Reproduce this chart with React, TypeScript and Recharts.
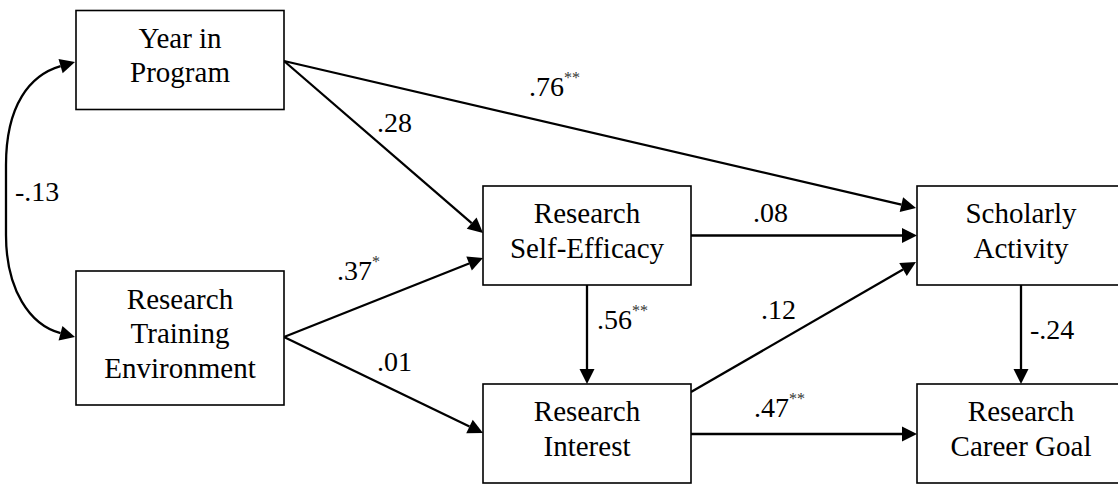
import React from 'react';
import { ScatterChart, Scatter, XAxis, YAxis } from 'recharts';

// node boxes: label lines and centre (drawing units = pixels of the 1118x485 figure)
const nodeLabels = [
  ['Year in', 'Program'],
  ['Research', 'Training', 'Environment'],
  ['Research', 'Self-Efficacy'],
  ['Research', 'Interest'],
  ['Scholarly', 'Activity'],
  ['Research', 'Career Goal'],
];
const nodeX = [180, 180, 587, 587, 1021, 1021];
const nodeY = [60, 338, 235.5, 433.5, 235.5, 433.5];

// directed paths: start / end of each arrow
const pathFrom: [number, number][] = [
  [284, 61], [284, 61], [284, 337], [284, 337], [691, 235.5],
  [587, 285], [691, 392], [691, 434], [1021, 285],
];
const pathTo: [number, number][] = [
  [483, 233], [916, 208], [483, 258], [483, 433], [917, 235.5],
  [587, 384], [916, 262], [917, 434], [1021, 384],
];

// path coefficients and where they sit
const coefText = ['.28', '.76', '.37', '.01', '.08', '.56', '.12', '.47', '-.24', '-.13'];
const coefStars = ['', '**', '*', '', '', '**', '', '**', '', ''];
const coefX = [377, 529, 337, 377, 753, 597, 761, 754, 1030, 15];
const coefY = [132, 96, 280, 371, 222, 329, 319, 417, 339, 201];

// two-headed correlation curve (anchor, ctrl, ctrl, anchor, anchor, ctrl, ctrl, anchor)
const corrX = [75, 30, 6, 6, 6, 6, 30, 75];
const corrY = [62, 75, 105, 165, 235, 290, 325, 337];

const W = 1118;
const H = 485;
const FONT = '"Liberation Serif", "Times New Roman", serif';
const BOX_W = 208;
const LINE_W = 2.3;
const HEAD_LEN = 15;
const HEAD_HW = 7.5;

const nodes = nodeLabels.map((lines, i) => ({ x: nodeX[i], y: nodeY[i], lines }));
const coefs = coefText.map((t, i) => ({ x: coefX[i], y: coefY[i], t, s: coefStars[i] }));
const corr = corrX.map((x, i) => ({ x, y: corrY[i] }));

type P = { x: number; y: number };

function head(tip: P, from: P) {
  const dx = tip.x - from.x;
  const dy = tip.y - from.y;
  const d = Math.hypot(dx, dy) || 1;
  const ux = dx / d;
  const uy = dy / d;
  const bx = tip.x - ux * HEAD_LEN;
  const by = tip.y - uy * HEAD_LEN;
  const pts = `${tip.x},${tip.y} ${bx - uy * HEAD_HW},${by + ux * HEAD_HW} ${bx + uy * HEAD_HW},${by - ux * HEAD_HW}`;
  return { base: { x: bx, y: by }, pts };
}

const Blank = () => <g />;

function Arrow(props: any) {
  const pts: P[] = props.points || [];
  if (pts.length < 2) return <g />;
  const a = pts[0];
  const b = pts[pts.length - 1];
  const h = head(b, a);
  return (
    <g>
      <line x1={a.x} y1={a.y} x2={h.base.x} y2={h.base.y} stroke="#000" strokeWidth={LINE_W} />
      <polygon points={h.pts} fill="#000" />
    </g>
  );
}

function CorrCurve(props: any) {
  const p: P[] = props.points || [];
  if (p.length < 8) return <g />;
  const h0 = head(p[0], p[1]);
  const h1 = head(p[7], p[6]);
  const d =
    `M${h0.base.x},${h0.base.y} C${p[1].x},${p[1].y} ${p[2].x},${p[2].y} ${p[3].x},${p[3].y} ` +
    `L${p[4].x},${p[4].y} C${p[5].x},${p[5].y} ${p[6].x},${p[6].y} ${h1.base.x},${h1.base.y}`;
  return (
    <g>
      <path d={d} fill="none" stroke="#000" strokeWidth={LINE_W} />
      <polygon points={h0.pts} fill="#000" />
      <polygon points={h1.pts} fill="#000" />
    </g>
  );
}

function NodeBox(props: any) {
  const { cx, cy, payload } = props;
  const lines: string[] = payload.lines;
  const h = lines.length === 3 ? 134 : 99;
  return (
    <g>
      <rect x={cx - BOX_W / 2} y={cy - h / 2} width={BOX_W} height={h} fill="#fff" stroke="#000" strokeWidth={1.6} />
      {lines.map((l, i) => (
        <text
          key={i}
          x={cx}
          y={cy + 5 + (i - (lines.length - 1) / 2) * 34.5}
          textAnchor="middle"
          fontFamily={FONT}
          fontSize={29}
          fill="#000"
        >
          {l}
        </text>
      ))}
    </g>
  );
}

function CoefLabel(props: any) {
  const { cx, cy, payload } = props;
  return (
    <text x={cx} y={cy} fontFamily={FONT} fontSize={28} fill="#000">
      {payload.t}
      {payload.s ? (
        <tspan dy={-13} fontSize={16} fill="#333">
          {payload.s}
        </tspan>
      ) : null}
    </text>
  );
}

export default function App() {
  return (
    <div style={{ position: 'absolute', left: 0, top: 0, width: W, height: H, background: '#fff' }}>
      <ScatterChart width={W} height={H} margin={{ top: 0, right: 0, bottom: 0, left: 0 }}>
        <XAxis type="number" dataKey="x" domain={[0, W]} hide allowDataOverflow />
        <YAxis type="number" dataKey="y" domain={[0, H]} reversed hide allowDataOverflow />
        <Scatter data={corr} shape={Blank} line={CorrCurve} isAnimationActive={false} />
        {pathFrom.map((f, i) => (
          <Scatter
            key={`path-${i}`}
            data={[
              { x: f[0], y: f[1] },
              { x: pathTo[i][0], y: pathTo[i][1] },
            ]}
            shape={Blank}
            line={Arrow}
            isAnimationActive={false}
          />
        ))}
        <Scatter data={nodes} shape={NodeBox} isAnimationActive={false} />
        <Scatter data={coefs} shape={CoefLabel} isAnimationActive={false} />
      </ScatterChart>
    </div>
  );
}
